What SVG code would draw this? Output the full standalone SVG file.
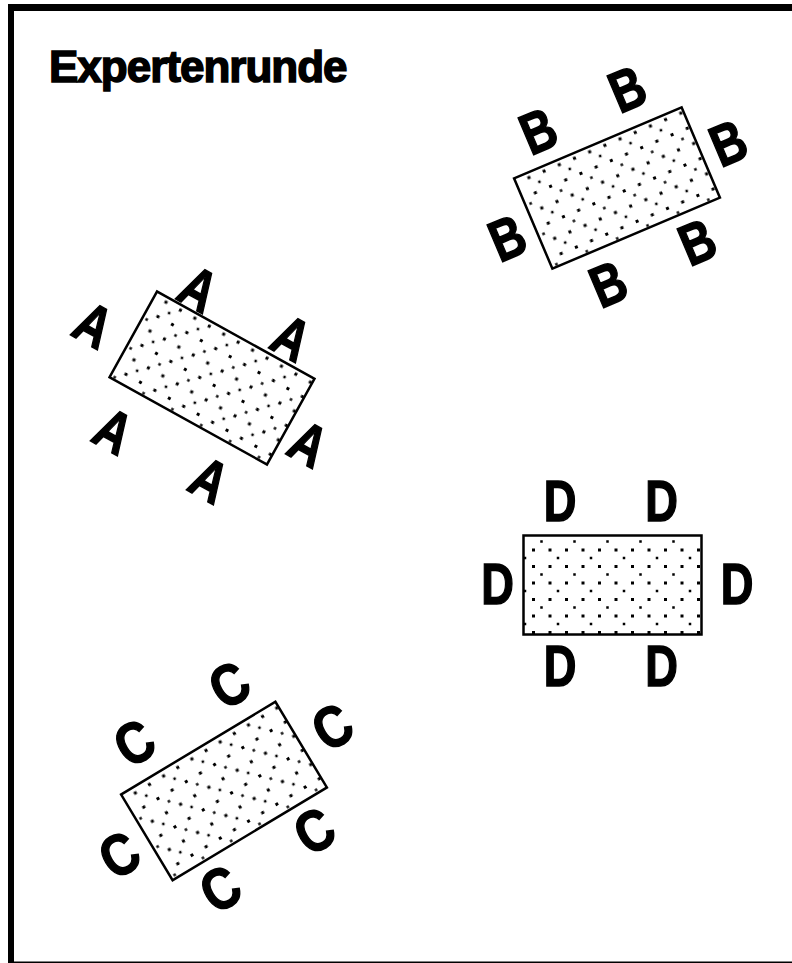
<svg xmlns="http://www.w3.org/2000/svg" width="792" height="963" viewBox="0 0 792 963">
<style>
.frame{fill:#000}
.tbl{fill:url(#dots);stroke:#000;stroke-width:2.5}
.seat{font-family:"Liberation Sans",Arial,sans-serif;font-weight:bold;font-size:58px;fill:#000;stroke:#000;stroke-width:1.5;text-anchor:middle}
.title{font-family:"Liberation Sans",Arial,sans-serif;font-weight:bold;font-size:44px;fill:#000;stroke:#000;stroke-width:1.5;letter-spacing:-1px}
</style>
<defs>
<pattern id="dots" patternUnits="userSpaceOnUse" width="33" height="33">
<rect width="33" height="33" fill="#fff"/>
<rect x="4" y="4" width="3" height="3" fill="#000"/>
<rect x="20.5" y="4" width="3" height="3" fill="#000"/>
<rect x="4" y="20.5" width="3" height="3" fill="#000"/>
<rect x="20.5" y="20.5" width="3" height="3" fill="#000"/>
<rect x="12.25" y="12.25" width="2.5" height="2.5" fill="#000"/>
<rect x="28.75" y="28.75" width="2.5" height="2.5" fill="#000"/>
</pattern>
</defs>
<rect width="792" height="963" fill="#fff"/>
<g id="frame">
<rect class="frame" x="8" y="4" width="784" height="7"/>
<rect class="frame" x="8" y="4" width="6" height="959"/>
<rect class="frame" x="8" y="961.5" width="784" height="1.5"/>
</g>
<g id="title"><text class="title" x="49" y="82">Expertenrunde</text></g>

<g id="table-b">
<rect class="tbl" x="-91" y="-49" width="182" height="98" transform="translate(617,188) rotate(-23)"/>
<text class="seat" transform="translate(627,88) rotate(-23) scale(0.8,1)" y="21">B</text>
<text class="seat" transform="translate(538,130) rotate(-23) scale(0.8,1)" y="21">B</text>
<text class="seat" transform="translate(728,142) rotate(-23) scale(0.8,1)" y="21">B</text>
<text class="seat" transform="translate(507,237) rotate(-23) scale(0.8,1)" y="21">B</text>
<text class="seat" transform="translate(697,241) rotate(-23) scale(0.8,1)" y="21">B</text>
<text class="seat" transform="translate(608,283) rotate(-23) scale(0.8,1)" y="21">B</text>
</g>

<g id="table-a">
<rect class="tbl" x="-90" y="-49" width="180" height="98" transform="translate(212,378) rotate(29)"/>
<text class="seat" transform="translate(94,324) rotate(29) scale(0.8,1)" y="21">A</text>
<text class="seat" transform="translate(199,288) rotate(29) scale(0.8,1)" y="21">A</text>
<text class="seat" transform="translate(292,337) rotate(29) scale(0.8,1)" y="21">A</text>
<text class="seat" transform="translate(114,430) rotate(29) scale(0.8,1)" y="21">A</text>
<text class="seat" transform="translate(309,443) rotate(29) scale(0.8,1)" y="21">A</text>
<text class="seat" transform="translate(210,479) rotate(29) scale(0.8,1)" y="21">A</text>
</g>

<g id="table-d">
<rect class="tbl" x="523.5" y="535.5" width="178" height="99"/>
<text class="seat" transform="translate(560,500) scale(0.78,1)" y="21">D</text>
<text class="seat" transform="translate(661.5,500) scale(0.78,1)" y="21">D</text>
<text class="seat" transform="translate(497.5,582.5) scale(0.78,1)" y="21">D</text>
<text class="seat" transform="translate(737,582.5) scale(0.78,1)" y="21">D</text>
<text class="seat" transform="translate(560,664.5) scale(0.78,1)" y="21">D</text>
<text class="seat" transform="translate(661.5,664.5) scale(0.78,1)" y="21">D</text>
</g>

<g id="table-c">
<rect class="tbl" x="-90" y="-50" width="180" height="100" transform="translate(224,791) rotate(-31)"/>
<text class="seat" transform="translate(229,684) rotate(-31) scale(0.85,1)" y="21">C</text>
<text class="seat" transform="translate(134,742) rotate(-31) scale(0.85,1)" y="21">C</text>
<text class="seat" transform="translate(332,726) rotate(-31) scale(0.85,1)" y="21">C</text>
<text class="seat" transform="translate(119,854) rotate(-31) scale(0.85,1)" y="21">C</text>
<text class="seat" transform="translate(314,830) rotate(-31) scale(0.85,1)" y="21">C</text>
<text class="seat" transform="translate(220,888) rotate(-31) scale(0.85,1)" y="21">C</text>
</g>
</svg>
